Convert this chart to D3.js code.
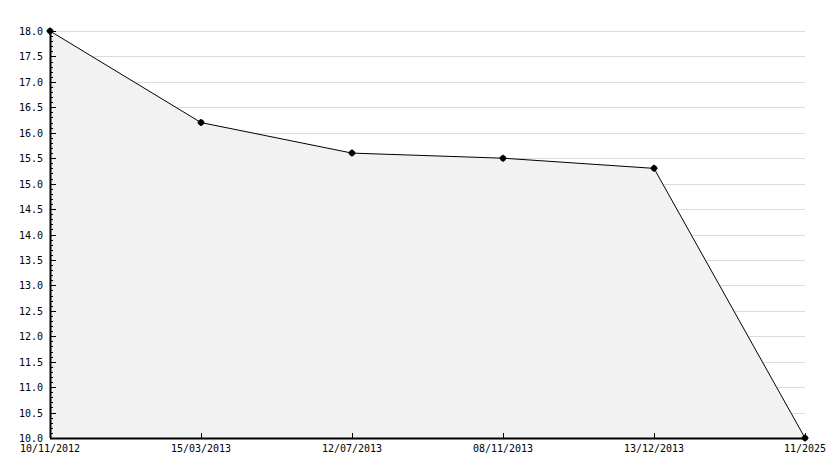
<!DOCTYPE html>
<html>
<head>
<meta charset="utf-8">
<script src="https://cdn.jsdelivr.net/npm/d3@7"></script>
<style>
  body { margin: 0; background: #fff; }
  text { font-family: "DejaVu Sans Mono", monospace; font-size: 10px; fill: #000; }
</style>
</head>
<body>
<div id="chart"></div>
<script>
// data
var dates = ["10/11/2012", "15/03/2013", "12/07/2013", "08/11/2013", "13/12/2013", "11/2025"];
var values = [18.0, 16.2, 15.6, 15.5, 15.3, 10.0];
var yTicks = [10.0, 10.5, 11.0, 11.5, 12.0, 12.5, 13.0, 13.5, 14.0, 14.5, 15.0, 15.5, 16.0, 16.5, 17.0, 17.5, 18.0];

var W = 834, H = 468;
var margin = { top: 31, right: 29, bottom: 30, left: 50 };
var width = W - margin.left - margin.right;
var height = H - margin.top - margin.bottom;

var svg = d3.select("#chart").append("svg")
    .attr("width", W)
    .attr("height", H)
    .append("g")
    .attr("transform", "translate(" + margin.left + "," + margin.top + ")");

var x = d3.scalePoint()
    .domain(dates)
    .range([0, width]);

var y = d3.scaleLinear()
    .domain([10, 18])
    .range([height, 0]);

// grid lines
svg.append("g")
    .selectAll("line")
    .data(yTicks.slice(1))
    .enter().append("line")
    .attr("x1", 0)
    .attr("x2", width)
    .attr("y1", function (d) { return Math.round(y(d)) + 0.5; })
    .attr("y2", function (d) { return Math.round(y(d)) + 0.5; })
    .attr("stroke", "#dcdcdc")
    .attr("stroke-width", 1);

var data = dates.map(function (d, i) { return { date: d, value: values[i] }; });

// area under line
var area = d3.area()
    .x(function (d) { return x(d.date); })
    .y0(height)
    .y1(function (d) { return y(d.value); });

svg.append("path")
    .datum(data)
    .attr("d", area)
    .attr("fill", "#f2f2f2");

// line
var line = d3.line()
    .x(function (d) { return x(d.date); })
    .y(function (d) { return y(d.value); });

svg.append("path")
    .datum(data)
    .attr("d", line)
    .attr("fill", "none")
    .attr("stroke", "#000")
    .attr("stroke-width", 1);

// y axis: major + minor ticks pointing inward
var minor = d3.range(100, 181).map(function (d) { return d / 10; });
var yAxisG = svg.append("g");
yAxisG.selectAll("line.minor")
    .data(minor)
    .enter().append("line")
    .attr("class", "minor")
    .attr("x1", 0)
    .attr("x2", function (d) { return Math.abs(d * 2 - Math.round(d * 2)) < 1e-6 ? 6 : 3; })
    .attr("y1", function (d) { return Math.round(y(d)) + 0.5; })
    .attr("y2", function (d) { return Math.round(y(d)) + 0.5; })
    .attr("stroke", "#000");

yAxisG.append("line")
    .attr("x1", 0.5).attr("x2", 0.5)
    .attr("y1", 0).attr("y2", height)
    .attr("stroke", "#000")
    .attr("stroke-width", 2);

yAxisG.selectAll("text")
    .data(yTicks)
    .enter().append("text")
    .attr("x", -7)
    .attr("y", function (d) { return y(d) + 4; })
    .attr("text-anchor", "end")
    .text(function (d) { return d3.format(".1f")(d); });

// x axis
var xAxisG = svg.append("g");
xAxisG.append("line")
    .attr("x1", 0).attr("x2", width)
    .attr("y1", height + 0.5).attr("y2", height + 0.5)
    .attr("stroke", "#000")
    .attr("stroke-width", 2);

xAxisG.selectAll("line.tick")
    .data(dates)
    .enter().append("line")
    .attr("class", "tick")
    .attr("x1", function (d) { return Math.round(x(d)) + 0.5; })
    .attr("x2", function (d) { return Math.round(x(d)) + 0.5; })
    .attr("y1", height - 5)
    .attr("y2", height)
    .attr("stroke", "#000");

xAxisG.selectAll("text")
    .data(dates)
    .enter().append("text")
    .attr("x", function (d) { return x(d); })
    .attr("y", height + 14)
    .attr("text-anchor", "middle")
    .text(function (d) { return d; });

// markers
var marks = svg.append("g")
    .selectAll("g")
    .data(data)
    .enter().append("g")
    .attr("transform", function (d) { return "translate(" + x(d.date) + "," + y(d.value) + ")"; });

marks.append("circle")
    .attr("r", 3)
    .attr("fill", "#000");

marks.append("path")
    .attr("d", "M-3.5,0H3.5M0,-3.5V3.5")
    .attr("stroke", "#000")
    .attr("stroke-width", 1.5);
</script>
</body>
</html>
